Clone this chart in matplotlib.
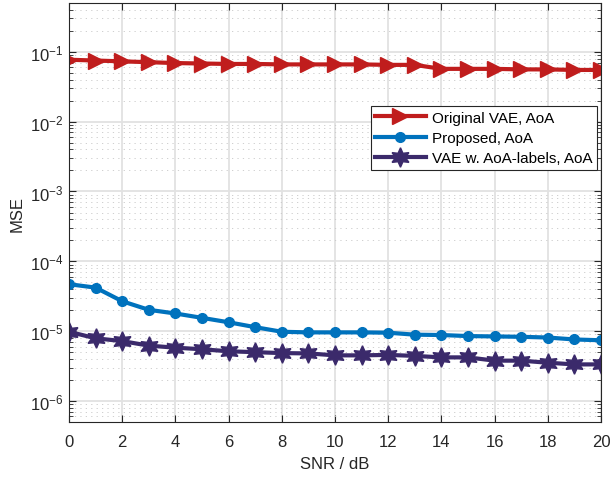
import numpy as np
import matplotlib.pyplot as plt
from matplotlib.ticker import LogLocator, NullFormatter

plt.rcParams['font.family'] = ['Liberation Sans', 'DejaVu Sans']

snr = list(range(0, 21))

mse_orig = [0.077, 0.075, 0.073, 0.071, 0.069, 0.068, 0.067, 0.067, 0.066, 0.066, 0.066,
            0.066, 0.065, 0.065, 0.057, 0.057, 0.057, 0.056, 0.056, 0.055, 0.055]
mse_prop = [4.7e-5, 4.2e-5, 2.68e-5, 2.02e-5, 1.79e-5, 1.55e-5, 1.34e-5, 1.14e-5, 9.8e-6, 9.6e-6, 9.6e-6,
            9.6e-6, 9.5e-6, 8.9e-6, 8.8e-6, 8.5e-6, 8.4e-6, 8.3e-6, 8.1e-6, 7.6e-6, 7.4e-6]
mse_lab = [9.8e-6, 7.9e-6, 7.2e-6, 6.2e-6, 5.8e-6, 5.5e-6, 5.15e-6, 5.0e-6, 4.85e-6, 4.8e-6, 4.5e-6,
           4.5e-6, 4.57e-6, 4.42e-6, 4.21e-6, 4.21e-6, 3.78e-6, 3.78e-6, 3.53e-6, 3.34e-6, 3.34e-6]

labels = ['Original VAE, AoA', 'Proposed, AoA', 'VAE w. AoA-labels, AoA']

fig = plt.figure(figsize=(6.1, 4.81), dpi=100)
ax = fig.add_axes([69/610, 1 - 423/481, (601-69)/610, (423-4)/481])

ax.semilogy(snr, mse_orig, color='#C01D1D', marker='>', markersize=11, linewidth=3, label=labels[0])
ax.semilogy(snr, mse_prop, color='#0072BD', marker='o', markersize=7, linewidth=3, label=labels[1])
ax.semilogy(snr, mse_lab, color='#3B2A6B', marker=(6, 1, 0), markersize=14, linewidth=3, label=labels[2])

ax.set_xlim(0, 20)
ax.set_ylim(5e-7, 0.5)
ax.set_xticks(range(0, 21, 2))
ax.yaxis.set_major_locator(LogLocator(base=10, numticks=20))
ax.yaxis.set_minor_locator(LogLocator(base=10, subs=np.arange(2, 10), numticks=20))
ax.yaxis.set_minor_formatter(NullFormatter())

ax.grid(True, which='major', color='#e2e2e2', linewidth=1.3, linestyle='-')
ax.grid(True, which='minor', axis='y', color='#c8c8c8', linewidth=0.6, linestyle=(0, (1.5, 5)))
ax.set_axisbelow(True)

ax.tick_params(direction='in', which='both', top=True, right=True, labelsize=12, colors='#262626')
ax.tick_params(which='major', length=5)
ax.tick_params(which='minor', length=3)
ax.tick_params(axis='x', pad=9)
ax.tick_params(axis='y', pad=4)
for s in ax.spines.values():
    s.set_color('#262626')
    s.set_linewidth(0.8)

ax.set_xlabel('SNR / dB', fontsize=12, color='#262626', labelpad=5)
ax.set_ylabel('MSE', fontsize=12, color='#262626')

leg = ax.legend(loc='upper right', bbox_to_anchor=(0.992, 0.754), borderaxespad=0, fontsize=11,
                frameon=True, fancybox=False, edgecolor='#262626', framealpha=1, borderpad=0.3,
                labelspacing=0.42, handlelength=3.3, handletextpad=0.4)
leg.get_frame().set_linewidth(0.8)

fig.savefig('out.png', dpi=100)
